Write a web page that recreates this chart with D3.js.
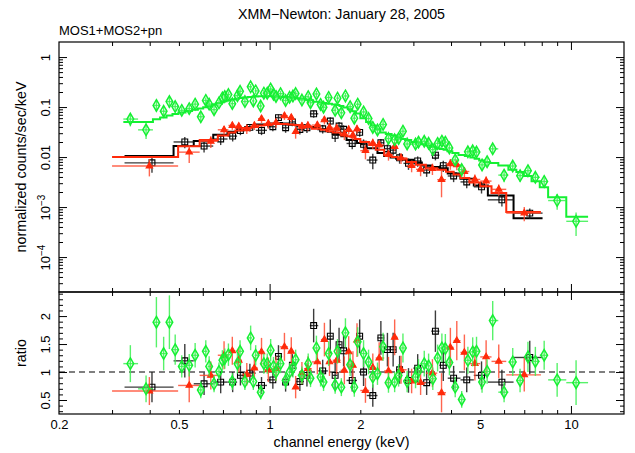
<!DOCTYPE html>
<html>
<head>
<meta charset="utf-8">
<script src="https://cdn.jsdelivr.net/npm/d3@7"></script>
<style>
  body { margin: 0; background: #fff; }
  text { font-family: "Liberation Sans", Arial, Helvetica, sans-serif; fill: #000; }
</style>
</head>
<body>
<svg id="chart" width="635" height="453"></svg>
<script>
// ---- MOS1 (black squares) ----
const mos1Edges = [0.33,0.48,0.56,0.65,0.725,0.78,0.83,0.90,0.98,1.05,1.10,1.16,1.22,1.30,1.36,1.45,1.56,1.62,1.68,1.73,1.80,1.95,2.02,2.10,2.28,2.40,2.52,2.63,2.78,3.00,3.20,3.44,3.66,3.90,4.30,4.76,5.30,6.45,8.05];
const mos1Energy = [0.407,0.523,0.606,0.688,0.754,0.80,0.86,0.94,1.025,1.07,1.13,1.19,1.26,1.33,1.40,1.50,1.59,1.65,1.70,1.76,1.88,1.99,2.05,2.20,2.34,2.46,2.57,2.70,2.89,3.10,3.32,3.55,3.77,4.08,4.51,5.05,5.90,7.30];
const mos1Model = [0.0105,0.0167,0.021,0.028,0.032,0.036,0.040,0.045,0.047,0.048,0.047,0.045,0.043,0.041,0.040,0.036,0.032,0.029,0.028,0.026,0.022,0.019,0.018,0.015,0.012,0.0105,0.0098,0.0093,0.0088,0.0078,0.0068,0.0063,0.0060,0.0047,0.0037,0.0027,0.0017,0.0006];
const mos1Ratio = [0.73,1.20,0.79,0.82,0.82,0.94,0.98,0.76,0.86,1.28,0.82,1.12,0.83,0.94,1.83,1.02,1.64,0.94,1.49,1.38,0.85,1.64,1.00,0.58,1.61,1.40,1.40,1.04,0.85,1.07,0.81,1.73,1.12,0.89,0.86,0.94,0.82,1.26];
const mos1RatioErr = [0.27,0.30,0.20,0.20,0.18,0.18,0.17,0.15,0.16,0.20,0.17,0.20,0.17,0.20,0.30,0.20,0.30,0.25,0.30,0.28,0.20,0.30,0.25,0.20,0.30,0.30,0.30,0.25,0.22,0.25,0.22,0.37,0.28,0.22,0.22,0.25,0.22,0.30];

// ---- MOS2 (red triangles) ----
const mos2Edges = [0.30,0.497,0.586,0.673,0.73,0.77,0.81,0.87,0.915,0.96,1.02,1.08,1.15,1.20,1.25,1.30,1.38,1.48,1.545,1.62,1.72,1.80,1.87,1.92,2.00,2.14,2.25,2.40,2.54,2.66,2.85,3.06,3.30,3.60,3.85,4.08,4.30,4.60,5.00,5.45,6.10,7.95];
const mos2Energy = [0.399,0.541,0.638,0.706,0.752,0.79,0.84,0.89,0.94,0.99,1.05,1.12,1.18,1.22,1.28,1.34,1.44,1.52,1.58,1.67,1.77,1.83,1.89,1.95,2.08,2.20,2.31,2.48,2.60,2.73,2.96,3.17,3.47,3.72,3.98,4.18,4.43,4.80,5.23,5.76,7.00];
const mos2Model = [0.0100,0.0165,0.022,0.027,0.031,0.034,0.038,0.040,0.043,0.045,0.046,0.046,0.045,0.044,0.042,0.040,0.037,0.035,0.033,0.031,0.028,0.026,0.0245,0.023,0.020,0.0175,0.014,0.011,0.0100,0.0092,0.0080,0.0070,0.0060,0.0056,0.0051,0.0045,0.0038,0.0031,0.0026,0.0019,0.0008];
const mos2Ratio = [0.66,0.76,0.94,1.30,1.38,1.21,0.96,1.07,1.36,1.04,1.06,1.45,1.37,0.73,0.98,1.06,1.18,1.58,1.18,1.21,1.03,1.36,1.12,1.57,0.67,1.08,1.25,1.02,1.62,1.04,0.84,0.81,0.98,0.63,1.44,1.56,1.35,1.15,1.27,1.19,0.95];
const mos2RatioErr = [0.25,0.30,0.25,0.25,0.25,0.22,0.20,0.20,0.25,0.22,0.22,0.25,0.25,0.20,0.20,0.22,0.22,0.30,0.25,0.25,0.25,0.28,0.25,0.30,0.22,0.25,0.28,0.25,0.32,0.25,0.22,0.22,0.25,0.35,0.35,0.35,0.32,0.30,0.30,0.30,0.30];

// ---- pn (green diamonds) ----
const pnEdges = [0.327,0.366,0.41,0.433,0.455,0.476,0.498,0.526,0.553,0.578,
  0.602,0.622,0.642,0.666,0.688,0.703,0.720,0.741,0.767,0.790,
  0.813,0.846,0.874,0.891,0.917,0.946,0.970,0.995,1.020,1.040,
  1.068,1.108,1.150,1.180,1.208,1.240,1.310,1.355,1.395,1.453,
  1.493,1.540,1.610,1.665,1.705,1.757,1.817,1.880,1.935,2.000,
  2.090,2.165,2.240,2.330,2.430,2.540,2.640,2.720,2.815,2.950,
  3.085,3.190,3.315,3.425,3.545,3.670,3.780,3.890,4.040,4.235,
  4.445,4.635,4.790,4.960,5.170,5.380,5.740,6.200,6.590,6.980,
  7.400,7.880,8.400,9.650,11.40];
const pnEnergy = [0.345,0.389,0.421,0.445,0.465,0.486,0.511,0.541,0.566,0.591,
  0.614,0.630,0.654,0.679,0.697,0.710,0.730,0.752,0.782,0.798,
  0.828,0.865,0.883,0.899,0.934,0.957,0.982,1.008,1.030,1.050,
  1.087,1.130,1.165,1.195,1.220,1.280,1.343,1.367,1.430,1.476,
  1.510,1.570,1.650,1.680,1.730,1.785,1.850,1.910,1.960,2.050,
  2.130,2.200,2.280,2.380,2.480,2.600,2.680,2.770,2.860,3.050,
  3.120,3.260,3.370,3.480,3.610,3.730,3.830,3.950,4.130,4.340,
  4.550,4.720,4.860,5.070,5.270,5.500,6.000,6.410,6.780,7.200,
  7.620,8.150,9.000,10.40];
const pnModel = [0.050,0.050,0.057,0.062,0.068,0.073,0.078,0.083,0.088,0.094,
  0.099,0.104,0.112,0.120,0.126,0.131,0.136,0.141,0.147,0.151,
  0.155,0.158,0.160,0.162,0.164,0.165,0.165,0.165,0.164,0.163,
  0.161,0.159,0.157,0.155,0.153,0.147,0.140,0.137,0.128,0.124,
  0.121,0.117,0.112,0.110,0.105,0.098,0.090,0.082,0.074,0.060,
  0.050,0.043,0.036,0.031,0.029,0.027,0.025,0.023,0.022,0.020,
  0.0195,0.018,0.017,0.016,0.015,0.0145,0.014,0.013,0.012,0.011,
  0.0105,0.0098,0.0092,0.0085,0.0080,0.0076,0.0068,0.0056,0.0050,0.0042,
  0.0033,0.0025,0.00157,0.00064];
const pnRatio = [1.15,0.70,1.89,1.33,1.89,1.40,1.10,1.12,1.30,0.68,
  1.37,1.10,0.79,1.01,1.21,1.24,1.31,0.83,1.15,1.37,
  0.83,1.61,0.83,1.30,0.64,1.15,1.15,1.39,1.10,1.00,
  1.15,0.85,1.00,1.07,1.22,0.94,1.15,0.89,1.43,0.91,
  0.82,1.33,0.77,1.37,0.73,1.70,1.13,0.73,1.54,1.33,
  1.18,0.91,0.97,1.45,0.81,0.82,0.94,1.43,0.83,0.91,
  1.02,1.15,1.11,0.88,1.25,1.43,1.42,1.17,0.73,0.51,
  1.21,1.36,1.37,0.82,1.01,1.92,0.64,1.18,0.85,1.27,
  1.19,1.30,0.86,0.81];
const pnRatioErr = [0.33,0.24,0.45,0.30,0.48,0.27,0.20,0.20,0.22,0.15,
  0.20,0.18,0.15,0.16,0.18,0.18,0.20,0.15,0.18,0.20,
  0.15,0.22,0.15,0.18,0.13,0.18,0.18,0.20,0.17,0.16,
  0.17,0.15,0.16,0.17,0.18,0.16,0.18,0.16,0.22,0.17,
  0.16,0.22,0.16,0.22,0.16,0.26,0.20,0.17,0.26,0.24,
  0.22,0.19,0.20,0.25,0.18,0.18,0.20,0.26,0.19,0.20,
  0.21,0.23,0.22,0.20,0.24,0.26,0.26,0.23,0.18,0.15,
  0.24,0.26,0.26,0.19,0.22,0.35,0.18,0.25,0.21,0.27,
  0.26,0.26,0.30,0.40];

// ---- axis ticks and labels ----
const energyLabels = [0.2, 0.5, 1, 2, 5, 10];
const energyMajor = [1, 10];
const energyMinor = [0.3,0.4,0.5,0.6,0.7,0.8,0.9,2,3,4,5,6,7,8,9];
const countsMajor = [1e-4, 1e-3, 0.01, 0.1, 1];
const ratioMajor = [0.5, 1, 1.5, 2];
const ratioMinor = [0.3,0.4,0.6,0.7,0.8,0.9,1.1,1.2,1.3,1.4,1.6,1.7,1.8,1.9,2.1,2.2,2.3,2.4];

const titleText = "XMM\u2212Newton: January 28, 2005";
const subtitleText = "MOS1+MOS2+pn";

// ---- layout ----
const L = 59, R = 624, T = 42, M = 292, B = 414;
const svg = d3.select("#chart");

const x = d3.scaleLog().domain([0.2, 15]).range([L, R]);
const yC = d3.scaleLog().domain([2e-5, 2]).range([M, T]);
const yR = d3.scaleLinear().domain([0.25, 2.43]).range([B, M]);

const countsMinor = [];
[1e-5, 1e-4, 1e-3, 1e-2, 1e-1, 1].forEach(dec => {
  for (let k = 2; k <= 9; k++) {
    const v = k * dec;
    if (v > 2e-5 && v < 2) countsMinor.push(v);
  }
});

const series = [
  { edges: mos1Edges, e: mos1Energy, m: mos1Model, r: mos1Ratio, re: mos1RatioErr, color: "#000000", bar: "#1a1a1a", shape: "square" },
  { edges: mos2Edges, e: mos2Energy, m: mos2Model, r: mos2Ratio, re: mos2RatioErr, color: "#ff2a0a", bar: "#ff4a30", shape: "triangle" },
  { edges: pnEdges, e: pnEnergy, m: pnModel, r: pnRatio, re: pnRatioErr, color: "#14f032", bar: "#3af050", shape: "diamond" }
];

const defs = svg.append("defs");
defs.append("clipPath").attr("id", "clipTop").append("rect")
  .attr("x", L).attr("y", T).attr("width", R - L).attr("height", M - T);
defs.append("clipPath").attr("id", "clipBot").append("rect")
  .attr("x", L).attr("y", M).attr("width", R - L).attr("height", B - M);

const gTop = svg.append("g").attr("clip-path", "url(#clipTop)");
const gBot = svg.append("g").attr("clip-path", "url(#clipBot)");

// ratio = 1 reference line
gBot.append("line")
  .attr("x1", L).attr("x2", R)
  .attr("y1", yR(1)).attr("y2", yR(1))
  .attr("stroke", "#000").attr("stroke-width", 1.1)
  .attr("stroke-dasharray", "6,4");

function marker(shape) {
  if (shape === "square") return d3.symbol(d3.symbolSquare, 34)();
  if (shape === "triangle") return d3.symbol(d3.symbolTriangle, 18)();
  return d3.symbol(d3.symbolDiamond, 38)();
}

const clampC = v => Math.max(v, 2.1e-5);

series.forEach(s => {
  const bins = s.e.map((e, i) => ({
    e, lo: s.edges[i], hi: s.edges[i + 1], m: s.m[i], r: s.r[i], re: s.re[i]
  }));

  // folded model as a histogram
  const pts = bins.flatMap(b => [[b.lo, b.m], [b.hi, b.m]]);
  gTop.append("path")
    .datum(pts)
    .attr("fill", "none")
    .attr("stroke", s.color)
    .attr("stroke-width", 2)
    .attr("d", d3.line().x(d => x(d[0])).y(d => yC(d[1])));

  const sym = marker(s.shape);
  const fill = s.shape === "triangle" ? s.color : "none";
  const sw = s.shape === "diamond" ? 1.5 : 1.1;

  // counts panel
  const gt = gTop.append("g");
  bins.forEach(b => {
    const v = b.m * b.r;
    gt.append("line").attr("x1", x(b.e)).attr("x2", x(b.e))
      .attr("y1", yC(clampC(b.m * (b.r - b.re)))).attr("y2", yC(b.m * (b.r + b.re)))
      .attr("stroke", s.bar).attr("stroke-width", 1.4).attr("stroke-opacity", 0.85);
    gt.append("line").attr("x1", x(b.lo)).attr("x2", x(b.hi))
      .attr("y1", yC(v)).attr("y2", yC(v))
      .attr("stroke", s.bar).attr("stroke-width", 1.4).attr("stroke-opacity", 0.85);
    gt.append("path").attr("d", sym)
      .attr("transform", `translate(${x(b.e)},${yC(v)})`)
      .attr("fill", fill).attr("stroke", s.color).attr("stroke-width", sw);
  });

  // ratio panel
  const gb = gBot.append("g");
  bins.forEach(b => {
    gb.append("line").attr("x1", x(b.e)).attr("x2", x(b.e))
      .attr("y1", yR(b.r - b.re)).attr("y2", yR(b.r + b.re))
      .attr("stroke", s.bar).attr("stroke-width", 1.4).attr("stroke-opacity", 0.85);
    gb.append("line").attr("x1", x(b.lo)).attr("x2", x(b.hi))
      .attr("y1", yR(b.r)).attr("y2", yR(b.r))
      .attr("stroke", s.bar).attr("stroke-width", 1.4).attr("stroke-opacity", 0.85);
    gb.append("path").attr("d", sym)
      .attr("transform", `translate(${x(b.e)},${yR(b.r)})`)
      .attr("fill", fill).attr("stroke", s.color).attr("stroke-width", sw);
  });
});

// ---- frames ----
[[T, M], [M, B]].forEach(([a, b]) => {
  svg.append("rect").attr("x", L).attr("y", a).attr("width", R - L).attr("height", b - a)
    .attr("fill", "none").attr("stroke", "#000").attr("stroke-width", 1.2);
});

// ---- inward ticks ----
function ticks(axisFn, scale, values, size, tx, ty) {
  const g = svg.append("g").attr("transform", `translate(${tx},${ty})`)
    .call(axisFn(scale).tickValues(values).tickSize(-size).tickSizeOuter(0).tickFormat(""));
  g.select(".domain").remove();
  g.selectAll(".tick line").attr("stroke", "#000").attr("stroke-width", 1);
  return g;
}

[[d3.axisTop, T], [d3.axisBottom, M], [d3.axisTop, M], [d3.axisBottom, B]].forEach(([fn, yy]) => {
  ticks(fn, x, energyMinor, 4, 0, yy);
  ticks(fn, x, energyMajor, 8, 0, yy);
});
[[d3.axisLeft, L], [d3.axisRight, R]].forEach(([fn, xx]) => {
  ticks(fn, yC, countsMinor, 4, xx, 0);
  ticks(fn, yC, countsMajor, 8, xx, 0);
  ticks(fn, yR, ratioMinor, 4, xx, 0);
  ticks(fn, yR, ratioMajor, 8, xx, 0);
});

// ---- tick labels ----
const xl = svg.append("g").attr("transform", `translate(0,${B})`)
  .call(d3.axisBottom(x).tickValues(energyLabels).tickSize(0).tickPadding(6).tickFormat(d => String(d)));
xl.select(".domain").remove();
xl.selectAll("text").attr("font-size", 13).attr("fill", "#000");

function rotatedLabels(scale, values, fmt) {
  const g = svg.append("g").attr("transform", `translate(${L},0)`)
    .call(d3.axisLeft(scale).tickValues(values).tickSize(0).tickFormat(fmt));
  g.select(".domain").remove();
  g.selectAll("text")
    .attr("x", null).attr("dy", null)
    .attr("text-anchor", "middle")
    .attr("font-size", 13)
    .attr("fill", "#000")
    .attr("transform", "translate(-9,0) rotate(-90)");
  return g;
}

const yl = rotatedLabels(yC, countsMajor, d => d >= 0.01 ? String(d) : "");
yl.selectAll("text").each(function (d) {
  if (d < 0.01) {
    const t = d3.select(this);
    const p = Math.round(Math.log10(d));
    t.append("tspan").text("10");
    t.append("tspan").attr("dy", -5).attr("font-size", 10).text("\u2212" + Math.abs(p));
  }
});
rotatedLabels(yR, ratioMajor, d => String(d));

// ---- titles ----
svg.append("text").attr("x", (L + R) / 2).attr("y", 19).attr("text-anchor", "middle")
  .attr("font-size", 14.2).text(titleText);
svg.append("text").attr("x", L).attr("y", 35).attr("font-size", 13).text(subtitleText);
svg.append("text").attr("x", (L + R) / 2).attr("y", 447).attr("text-anchor", "middle")
  .attr("font-size", 14.3).text("channel energy (keV)");
svg.append("text").attr("transform", `translate(26,${(T + M) / 2}) rotate(-90)`)
  .attr("text-anchor", "middle").attr("font-size", 14.3).text("normalized counts/sec/keV");
svg.append("text").attr("transform", `translate(26,${(M + B) / 2}) rotate(-90)`)
  .attr("text-anchor", "middle").attr("font-size", 14.3).text("ratio");
</script>
</body>
</html>
